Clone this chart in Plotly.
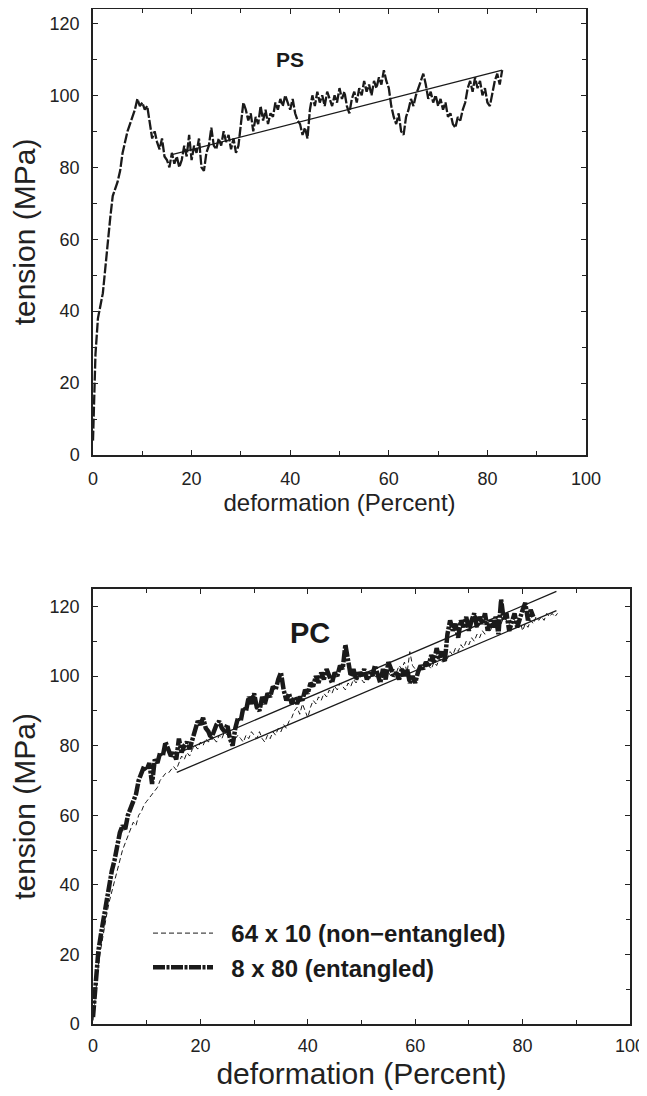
import plotly.graph_objects as go

# ---------------- data ----------------
# PS (top panel): stress, sampled every 0.5 % deformation starting at 0
ps_x0, ps_dx = 0, 0.5
ps_tension = [4, 28, 38, 42, 45, 52, 60, 66, 72, 74, 76, 79, 84, 87, 90, 92, 94, 96, 99, 97,
              98, 96, 97, 93, 88, 90, 87, 85, 88, 83, 82, 80, 84, 81, 83, 80, 82, 86, 83, 89,
              82, 86, 84, 88, 80, 79, 84, 86, 91, 86, 85, 88, 86, 90, 87, 89, 85, 88, 84, 86,
              92, 98, 96, 93, 95, 90, 94, 92, 97, 93, 96, 92, 95, 94, 98, 96, 99, 97, 100, 98,
              96, 99, 95, 93, 92, 89, 91, 88, 96, 100, 97, 101, 98, 100, 97, 101, 99, 97, 100, 98,
              102, 99, 101, 97, 95, 99, 101, 98, 102, 100, 104, 101, 103, 100, 104, 102, 105, 103, 107, 104,
              102, 97, 94, 92, 95, 90, 89, 94, 96, 99, 97, 100, 102, 104, 106, 103, 99, 101, 98, 100,
              97, 99, 96, 98, 94, 95, 92, 91, 94, 93, 96, 98, 102, 104, 101, 105, 102, 104, 100, 102,
              98, 97, 101, 104, 106, 103, 107]
ps_fit_x = [16, 83]
ps_fit_y = [83.5, 107]

# PC (bottom panel)
pc_x0, pc_dx = 0, 0.5
pc_nonent = [1, 10, 17, 22, 27, 31, 35, 38, 41, 44, 47, 50, 52, 54, 56, 58, 57, 60, 61, 63,
             64, 65, 66, 67, 68, 70, 71, 72, 72, 73, 74, 73, 75, 77, 76, 78, 77, 79, 80, 79,
             81, 80, 82, 81, 83, 82, 81, 83, 82, 84, 83, 82, 81, 82, 83, 82, 81, 83, 82, 84,
             83, 82, 84, 82, 81, 83, 82, 84, 83, 85, 84, 86, 85, 87, 88, 90, 91, 89, 92, 90,
             88, 91, 93, 92, 94, 93, 95, 94, 96, 95, 97, 96, 98, 97, 96, 98, 97, 99, 98, 100,
             99, 98, 100, 99, 101, 100, 99, 101, 100, 102, 101, 100, 102, 101, 103, 102, 104, 101, 107, 103,
             102, 101, 103, 102, 104, 103, 102, 104, 103, 105, 104, 106, 105, 107, 106, 108, 107, 109, 108, 110,
             109, 111, 110, 112, 111, 113, 112, 114, 113, 115, 114, 116, 115, 117, 116, 115, 117, 116, 114, 116,
             113, 115, 114, 116, 115, 117, 116, 117, 116, 118, 117, 118, 117, 118]
pc_ent = [2, 14, 21, 26, 31, 36, 40, 44, 47, 52, 55, 57, 56, 60, 62, 64, 66, 70, 72, 74,
          73, 75, 69, 76, 75, 78, 77, 81, 79, 77, 78, 76, 82, 78, 80, 81, 79, 82, 84, 87,
          86, 88, 85, 84, 82, 84, 86, 87, 85, 84, 86, 82, 80, 85, 88, 87, 91, 90, 94, 92,
          95, 91, 90, 94, 92, 95, 94, 97, 96, 99, 101, 96, 93, 95, 92, 94, 92, 94, 93, 96,
          95, 98, 97, 100, 98, 101, 99, 102, 100, 98, 101, 100, 103, 102, 109, 104, 100, 102, 99, 101,
          100, 102, 99, 101, 100, 103, 100, 98, 102, 99, 104, 102, 100, 101, 99, 102, 100, 102, 98, 100,
          98, 101, 103, 102, 104, 103, 106, 104, 108, 105, 107, 104, 112, 116, 113, 115, 111, 116, 114, 117,
          113, 116, 118, 114, 117, 115, 118, 113, 116, 114, 117, 112, 122, 116, 118, 113, 116, 118, 114, 117,
          119, 121, 116, 119, 117]
pc_fit_upper_x = [16, 86.3]
pc_fit_upper_y = [78, 124.3]
pc_fit_lower_x = [15.6, 86.3]
pc_fit_lower_y = [72.3, 118.8]

x_ticks = [0, 20, 40, 60, 80, 100]
y_ticks = [0, 20, 40, 60, 80, 100, 120]
ps_y_range = [0, 124]
pc_y_range = [0, 125]

# ---------------- figure ----------------
INK = "#1a1a1a"
SANS = "Liberation Sans, Arial, sans-serif"

fig = go.Figure()

fig.add_trace(go.Scatter(x0=ps_x0, dx=ps_dx, y=ps_tension, mode="lines",
                         line=dict(color=INK, width=2.3, dash="10px,2px"),
                         showlegend=False, xaxis="x", yaxis="y"))
fig.add_trace(go.Scatter(x=ps_fit_x, y=ps_fit_y, mode="lines",
                         line=dict(color=INK, width=1.3),
                         showlegend=False, xaxis="x", yaxis="y"))

fig.add_trace(go.Scatter(x0=pc_x0, dx=pc_dx, y=pc_nonent, mode="lines",
                         name="\u00a0\u00a064 x 10 (non\u2212entangled)",
                         line=dict(color=INK, width=1, dash="5px,3px"),
                         xaxis="x2", yaxis="y2"))
fig.add_trace(go.Scatter(x0=pc_x0, dx=pc_dx, y=pc_ent, mode="lines",
                         name="\u00a0\u00a08 x 80 (entangled)",
                         line=dict(color=INK, width=4.5, dash="12px,1.5px,3px,1.5px"),
                         xaxis="x2", yaxis="y2"))
fig.add_trace(go.Scatter(x=pc_fit_upper_x, y=pc_fit_upper_y, mode="lines",
                         line=dict(color=INK, width=1.3),
                         showlegend=False, xaxis="x2", yaxis="y2"))
fig.add_trace(go.Scatter(x=pc_fit_lower_x, y=pc_fit_lower_y, mode="lines",
                         line=dict(color=INK, width=1.3),
                         showlegend=False, xaxis="x2", yaxis="y2"))

# the page body has an 8 px margin; the figure fills the rest of the window
OFF = 8
W, H = 639, 1082


def xdom(l, r):
    return [max(0, (l - OFF) / W), min(1, (r - OFF) / W)]


def ydom(top, bottom):
    return [max(0, (H - (bottom - OFF)) / H), min(1, (H - (top - OFF)) / H)]


common_axis = dict(
    showgrid=False, zeroline=False, showline=True, linecolor="#222", linewidth=1.5,
    mirror="allticks", ticks="inside", ticklen=5, tickwidth=1.2, tickcolor="#222",
    automargin=False, ticklabeloverflow="allow",
    tickfont=dict(family=SANS, size=18, color="#222"),
    minor=dict(dtick=10, ticks="inside", ticklen=4, tickwidth=1.2, tickcolor="#222"),
)

fig.update_layout(
    width=W, height=H,
    margin=dict(l=0, r=0, t=0, b=0, pad=0, autoexpand=False),
    paper_bgcolor="white", plot_bgcolor="white",
    xaxis=dict(common_axis, domain=xdom(93, 586), range=[0, 100], tickvals=x_ticks,
               anchor="y", ticklabelstandoff=7,
               title=dict(text="deformation (Percent)", standoff=6,
                          font=dict(family=SANS, size=24, color="#222"))),
    yaxis=dict(common_axis, domain=ydom(9, 455), range=ps_y_range, tickvals=y_ticks,
               anchor="x", ticklabelstandoff=8,
               title=dict(text="tension (MPa)", standoff=14,
                          font=dict(family=SANS, size=30, color="#222"))),
    xaxis2=dict(common_axis, domain=xdom(93, 630), range=[0, 100], tickvals=x_ticks,
                anchor="y2", ticklabelstandoff=5,
                title=dict(text="deformation (Percent)", standoff=9,
                           font=dict(family=SANS, size=30, color="#222"))),
    yaxis2=dict(common_axis, domain=ydom(589, 1024), range=pc_y_range, tickvals=y_ticks,
                anchor="x2", ticklabelstandoff=8,
                title=dict(text="tension (MPa)", standoff=14,
                           font=dict(family=SANS, size=30, color="#222"))),
    legend=dict(x=(148 - OFF) / W, y=(H - (911 - OFF)) / H, xanchor="left", yanchor="top",
                bgcolor="rgba(0,0,0,0)", itemwidth=60,
                font=dict(family=SANS, size=24, color=INK, weight="bold")),
    annotations=[
        dict(text="<b>PS</b>", x=40, y=110, xref="x", yref="y", showarrow=False,
             font=dict(family=SANS, size=21, color=INK)),
        dict(text="<b>PC</b>", x=40.5, y=112.5, xref="x2", yref="y2", showarrow=False,
             font=dict(family=SANS, size=29, color=INK)),
    ],
)

fig.write_html("out.html")
